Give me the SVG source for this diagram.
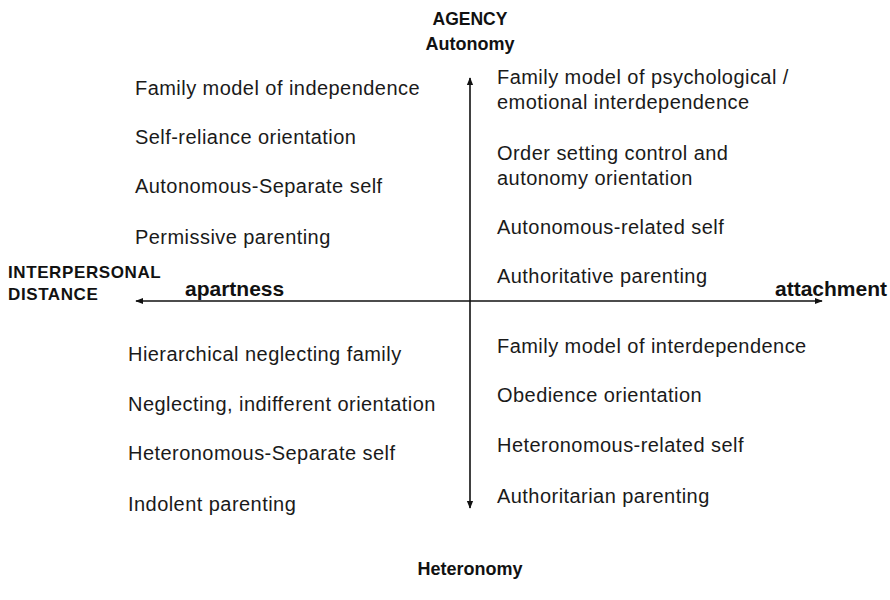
<svg xmlns="http://www.w3.org/2000/svg" width="890" height="600" viewBox="0 0 890 600">
<style>
.t{font-family:"Liberation Sans",Arial,sans-serif;font-size:20px;letter-spacing:0.45px;fill:#1a1a1a}
.b{font-family:"Liberation Sans",Arial,sans-serif;font-weight:bold;fill:#111}
.ax{stroke:#111;stroke-width:1.6;fill:none}
</style>
<defs>
<marker id="ah" viewBox="0 0 10 10" refX="9" refY="5" markerWidth="5" markerHeight="5" orient="auto-start-reverse" markerUnits="strokeWidth">
<path d="M0,1 L10,5 L0,9 z" fill="#111"/>
</marker>
</defs>
<rect width="890" height="600" fill="#fff"/>
<g id="connectors">
<line class="ax" x1="470" y1="301" x2="470" y2="78" marker-end="url(#ah)"/>
<line class="ax" x1="470" y1="301" x2="470" y2="508" marker-end="url(#ah)"/>
<line class="ax" x1="470" y1="301" x2="136" y2="301" marker-end="url(#ah)"/>
<line class="ax" x1="470" y1="301" x2="822" y2="301" marker-end="url(#ah)"/>
</g>
<g id="axis-labels">
<text class="b" x="470" y="25" font-size="17.5" text-anchor="middle">AGENCY</text>
<text class="b" x="470" y="50" font-size="18" text-anchor="middle">Autonomy</text>
<text class="b" x="470" y="575" font-size="18" text-anchor="middle">Heteronomy</text>
<text class="b" x="8" y="278" font-size="17" letter-spacing="0.6">INTERPERSONAL</text>
<text class="b" x="8" y="300" font-size="17" letter-spacing="0.6">DISTANCE</text>
<text class="b" x="185" y="296" font-size="21">apartness</text>
<text class="b" x="775" y="296" font-size="21">attachment</text>
</g>
<g id="q-top-left">
<text class="t" x="135" y="95">Family model of independence</text>
<text class="t" x="135" y="144">Self-reliance orientation</text>
<text class="t" x="135" y="193">Autonomous-Separate self</text>
<text class="t" x="135" y="244">Permissive parenting</text>
</g>
<g id="q-top-right">
<text class="t" x="497" y="84">Family model of psychological /</text>
<text class="t" x="497" y="109">emotional interdependence</text>
<text class="t" x="497" y="160">Order setting control and</text>
<text class="t" x="497" y="185">autonomy orientation</text>
<text class="t" x="497" y="234">Autonomous-related self</text>
<text class="t" x="497" y="283">Authoritative parenting</text>
</g>
<g id="q-bottom-left">
<text class="t" x="128" y="361">Hierarchical neglecting family</text>
<text class="t" x="128" y="411">Neglecting, indifferent orientation</text>
<text class="t" x="128" y="460">Heteronomous-Separate self</text>
<text class="t" x="128" y="511">Indolent parenting</text>
</g>
<g id="q-bottom-right">
<text class="t" x="497" y="353">Family model of interdependence</text>
<text class="t" x="497" y="402">Obedience orientation</text>
<text class="t" x="497" y="452">Heteronomous-related self</text>
<text class="t" x="497" y="503">Authoritarian parenting</text>
</g>
</svg>
